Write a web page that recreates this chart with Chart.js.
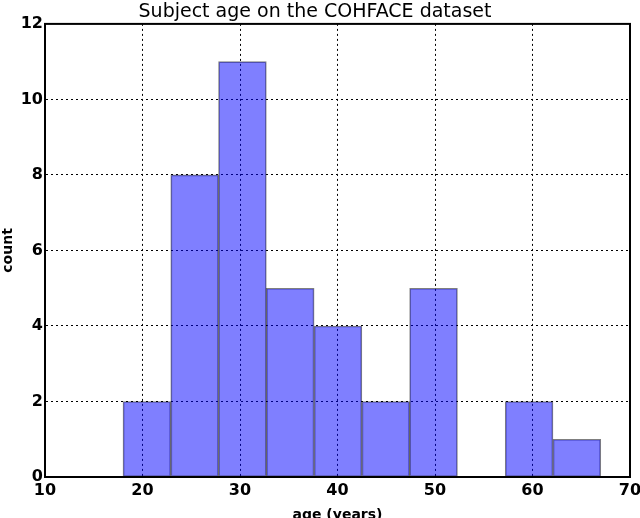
<!DOCTYPE html>
<html>
<head>
<meta charset="utf-8">
<script src="https://cdn.jsdelivr.net/npm/chart.js@4/dist/chart.umd.min.js"></script>
<style>
  html, body { margin: 0; padding: 0; background: #fff; }
  #wrap { width: 640px; height: 518px; position: relative; }
</style>
</head>
<body>
<div id="wrap"><canvas id="c" width="640" height="518"></canvas></div>
<script>
// Histogram bin edges (age, years) and counts per bin
const binEdges = [18, 22.9, 27.8, 32.7, 37.6, 42.5, 47.4, 52.3, 57.2, 62.1, 67];
const counts   = [2, 8, 11, 5, 4, 2, 5, 0, 2, 1];
const xTicks = [10, 20, 30, 40, 50, 60, 70];
const yTicks = [0, 2, 4, 6, 8, 10, 12];

const titleText = 'Subject age on the COHFACE dataset';
const xTitle = 'age (years)';
const yTitle = 'count';

const points = counts.map((c, i) => ({ x: (binEdges[i] + binEdges[i + 1]) / 2, y: c }));

const frame = {
  id: 'frame',
  afterDraw(chart) {
    const { ctx, chartArea: a } = chart;
    ctx.save();
    ctx.strokeStyle = '#000';
    ctx.lineWidth = 2;
    ctx.strokeRect(a.left, a.top, a.right - a.left, a.bottom - a.top);
    ctx.restore();
  }
};

const tickFont = { family: "'DejaVu Sans'", size: 16, weight: 'bold' };
const titleFont = { family: "'DejaVu Sans'", size: 14, weight: 'bold' };

new Chart(document.getElementById('c'), {
  type: 'bar',
  data: {
    datasets: [{
      data: points,
      backgroundColor: 'rgba(0,0,255,0.5)',
      borderColor: 'rgba(0,0,0,0.5)',
      borderWidth: 1,
      borderSkipped: false,
      categoryPercentage: 1,
      barPercentage: 1
    }]
  },
  options: {
    responsive: false,
    animation: false,
    layout: { padding: { left: 0, right: 10, top: 0, bottom: 0 } },
    plugins: {
      legend: { display: false },
      tooltip: { enabled: false },
      title: {
        display: true,
        text: titleText,
        color: '#000',
        font: { family: "'DejaVu Sans'", size: 19, weight: 'normal', lineHeight: 1.1 },
        padding: { top: 2, bottom: 1 }
      }
    },
    scales: {
      x: {
        type: 'linear',
        offset: false,
        min: 10, max: 70,
        afterBuildTicks(s) { s.ticks = xTicks.map(v => ({ value: v })); },
        afterFit(s) { s.height = 41; s.paddingLeft = 0; s.paddingRight = 0; },
        ticks: { color: '#000', font: tickFont, padding: 4, maxRotation: 0 },
        grid: { color: '#000', lineWidth: 1, drawTicks: false, offset: false },
        border: { color: '#000', width: 2, dash: [2, 3] },
        title: { display: true, text: xTitle, color: '#000', font: titleFont, padding: { top: 0, bottom: -6 } }
      },
      y: {
        min: 0, max: 12,
        afterBuildTicks(s) { s.ticks = yTicks.map(v => ({ value: v })); },
        afterFit(s) { s.width = 45; s.paddingTop = 0; s.paddingBottom = 0; },
        ticks: { color: '#000', font: tickFont, padding: 2 },
        grid: { color: '#000', lineWidth: 1, drawTicks: false, offset: false },
        border: { color: '#000', width: 2, dash: [2, 3] },
        title: { display: true, text: yTitle, color: '#000', font: titleFont, padding: { top: 0, bottom: 1 } }
      }
    }
  },
  plugins: [frame]
});
</script>
</body>
</html>
